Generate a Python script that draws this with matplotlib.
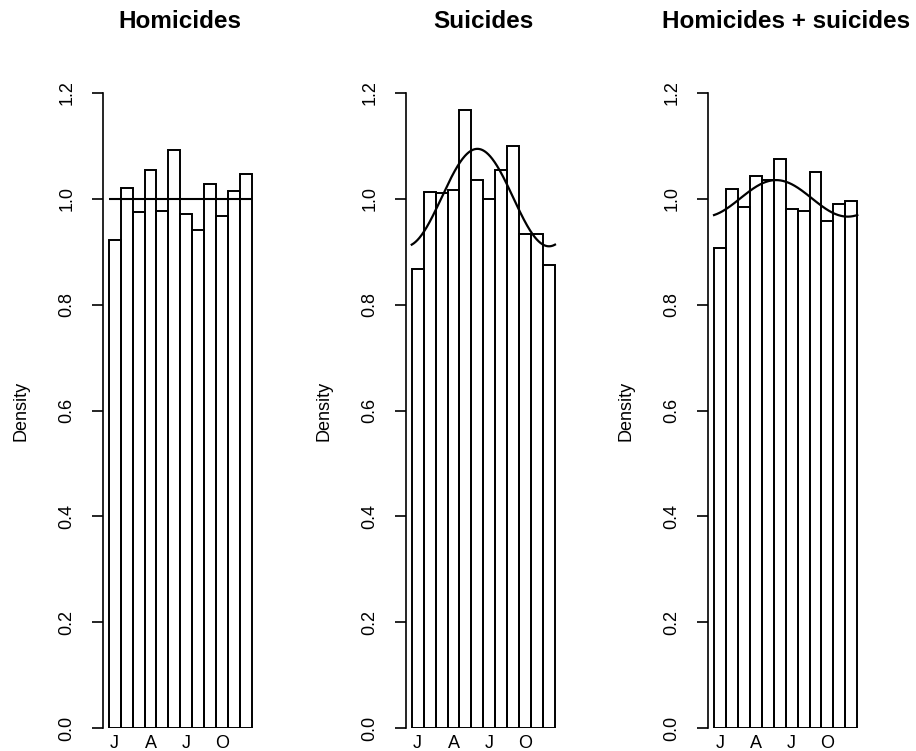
import numpy as np
import matplotlib
matplotlib.use("Agg")
import matplotlib.pyplot as plt

plt.rcParams['font.family'] = ['Liberation Sans', 'DejaVu Sans']

# monthly densities (Jan..Dec)
months = np.arange(1, 13)
homicides = [0.922, 1.021, 0.974, 1.055, 0.977, 1.092, 0.971, 0.941, 1.028, 0.968, 1.014, 1.047]
suicides = [0.868, 1.013, 1.010, 1.016, 1.168, 1.036, 1.000, 1.054, 1.100, 0.934, 0.934, 0.875]
combined = [0.906, 1.019, 0.985, 1.043, 1.036, 1.075, 0.981, 0.976, 1.051, 0.958, 0.989, 0.995]

tick_months = [1, 4, 7, 10]
tick_labels = ['J', 'A', 'J', 'O']
y_ticks = [0.0, 0.2, 0.4, 0.6, 0.8, 1.0, 1.2]

# fitted seasonal curves: level, amplitude, month of the peak
uniform_level = 1.0
suicide_fit = (1.002, 0.092, 6.0)
combined_fit = (1.0005, 0.0345, 5.7)

W, H = 916, 751
panel_left = [103, 406, 708.3]
panel_width = 154.7
y_bottom, y_top = 728.3, 92.7


def seasonal(x, fit):
    level, amp, peak = fit
    return level + amp * np.cos(2 * np.pi * (x - peak) / 12)


def draw_panel(fig, left, title, values, fit=None, flat=None):
    ax = fig.add_axes([left / W, (H - y_bottom) / H, panel_width / W, (y_bottom - y_top) / H])
    ax.bar(months, values, width=1, fill=False, edgecolor='black', linewidth=1.4)
    if flat is not None:
        ax.hlines(flat, 0.5, 12.5, color='black', linewidth=1.5)
    if fit is not None:
        xs = np.linspace(0.5, 12.5, 300)
        ax.plot(xs, seasonal(xs, fit), color='black', linewidth=1.6)

    ax.set_xlim(0.02, 12.98)
    ax.set_ylim(0, 1.2)
    for side in ['top', 'right', 'bottom']:
        ax.spines[side].set_visible(False)
    ax.spines['left'].set_linewidth(1.2)

    ax.set_yticks(y_ticks)
    ax.set_yticklabels([f'{v:.1f}' for v in y_ticks])
    ax.tick_params(axis='y', length=7.9, width=1.2, pad=12, labelsize=13)
    for lbl in ax.get_yticklabels():
        lbl.set_rotation(90)
        lbl.set_va('center')

    ax.set_xticks(tick_months)
    ax.set_xticklabels(tick_labels)
    ax.tick_params(axis='x', length=0, pad=5, labelsize=13)

    ax.text(-0.53, 0.5, 'Density', transform=ax.transAxes, rotation=90,
            ha='center', va='center', fontsize=13)
    ax.text(0.5, (y_bottom - 22) / (y_bottom - y_top), title, transform=ax.transAxes,
            ha='center', va='center', fontsize=17.5, fontweight='bold')
    return ax


fig = plt.figure(figsize=(W / 100, H / 100), dpi=100)
draw_panel(fig, panel_left[0], 'Homicides', homicides, flat=uniform_level)
draw_panel(fig, panel_left[1], 'Suicides', suicides, fit=suicide_fit)
draw_panel(fig, panel_left[2], 'Homicides + suicides', combined, fit=combined_fit)
fig.savefig('out.png', dpi=100)
